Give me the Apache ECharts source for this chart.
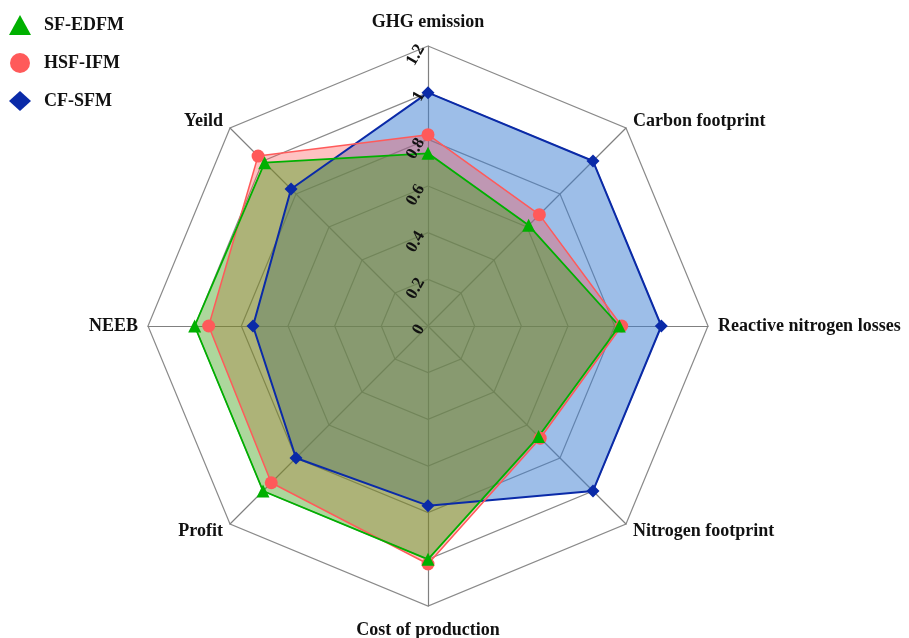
<!DOCTYPE html>
<html>
<head>
<meta charset="utf-8">
<script src="https://cdn.jsdelivr.net/npm/echarts@6/dist/echarts.min.js"></script>
<style>
  html, body { margin: 0; padding: 0; background: #ffffff; }
  #chart { width: 909px; height: 638px; }
</style>
</head>
<body>
<div id="chart"></div>
<script>
// Indicators, listed counter-clockwise from the top (radar default direction)
const indicators = [
  'GHG emission',
  'Yeild',
  'NEEB',
  'Profit',
  'Cost of production',
  'Nitrogen footprint',
  'Reactive nitrogen losses',
  'Carbon footprint'
];
const axisMax = 1.2;

// Series values, same order as indicators
const sfEdfm = [0.74, 0.99, 1.00, 1.00, 1.00, 0.67, 0.82, 0.61];
const hsfIfm = [0.82, 1.03, 0.94, 0.95, 1.02, 0.68, 0.83, 0.675];
const cfSfm  = [1.00, 0.83, 0.75, 0.80, 0.77, 1.00, 1.00, 1.00];

const seriesNames = ['SF-EDFM', 'HSF-IFM', 'CF-SFM'];

const serif = '"Liberation Serif", "Times New Roman", serif';

const chart = echarts.init(document.getElementById('chart'), null, { renderer: 'canvas' });

const center = [428, 326];
const radius = 280;

// Grid radar: web lines and indicator names, no tick labels
const gridIndicators = indicators.map((name, i) => ({
  name: name,
  min: 0,
  max: axisMax,
  nameGap: (i === 0 || i === 4) ? 15 : 10
}));

// Overlay radar with the same geometry: only the tick labels of the vertical axis
const labelIndicators = indicators.map((name, i) => ({
  name: name,
  min: 0,
  max: axisMax,
  axisLabel: i === 0 ? {
    show: true,
    rotate: 60,
    margin: 7,
    align: 'right',
    verticalAlign: 'middle',
    fontFamily: serif,
    fontSize: 17,
    fontWeight: 'bold',
    color: '#111',
    formatter: v => String(parseFloat(Number(v).toFixed(2)))
  } : { show: false }
}));

// Filled polygons drawn beneath; outlines and markers drawn above all fills
function areaSeries(name, values, fillColor) {
  return {
    type: 'radar',
    name: name,
    radarIndex: 0,
    z: 2,
    symbol: 'none',
    lineStyle: { width: 0, opacity: 0 },
    areaStyle: { color: fillColor, opacity: 1 },
    silent: true,
    data: [{ name: name, value: values }]
  };
}

function lineSeries(name, values, symbol, symbolSize, color, lineWidth) {
  return {
    type: 'radar',
    name: name,
    radarIndex: 0,
    z: 3,
    symbol: symbol,
    symbolSize: symbolSize,
    itemStyle: { color: color },
    lineStyle: { color: color, width: lineWidth },
    data: [{ name: name, value: values }]
  };
}

chart.setOption({
  animation: false,
  backgroundColor: '#ffffff',
  legend: {
    orient: 'vertical',
    left: 4,
    top: 10,
    itemWidth: 22,
    itemHeight: 20,
    itemGap: 18,
    textStyle: { fontFamily: serif, fontSize: 18, fontWeight: 'bold', color: '#111', padding: [0, 0, 0, 8] },
    data: [
      { name: seriesNames[0], icon: 'triangle', itemStyle: { color: '#00b000' } },
      { name: seriesNames[1], icon: 'circle', itemStyle: { color: '#ff5a5a' } },
      { name: seriesNames[2], icon: 'diamond', itemStyle: { color: '#0a2aa8' } }
    ]
  },
  radar: [
    {
      z: 0,
      center: center,
      radius: radius,
      startAngle: 90,
      shape: 'polygon',
      splitNumber: 6,
      axisName: {
        fontFamily: serif,
        fontSize: 18,
        fontWeight: 'bold',
        color: '#111'
      },
      axisLine: { lineStyle: { color: '#808080', width: 1.2 } },
      splitLine: { lineStyle: { color: '#8a8a8a', width: 1.2 } },
      splitArea: { show: false },
      axisLabel: { show: false },
      indicator: gridIndicators
    },
    {
      z: 5,
      center: center,
      radius: radius,
      startAngle: 90,
      shape: 'polygon',
      splitNumber: 6,
      axisName: { show: false },
      axisLine: { show: false },
      axisTick: { show: false },
      splitLine: { show: false },
      splitArea: { show: false },
      indicator: labelIndicators
    }
  ],
  series: [
    areaSeries(seriesNames[2], cfSfm, 'rgba(60,125,210,0.5)'),
    areaSeries(seriesNames[1], hsfIfm, 'rgba(255,80,80,0.35)'),
    areaSeries(seriesNames[0], sfEdfm, 'rgba(60,160,20,0.42)'),
    lineSeries(seriesNames[2], cfSfm, 'diamond', 13, '#0a2aa8', 2),
    lineSeries(seriesNames[1], hsfIfm, 'circle', 13, '#ff5a5a', 1.5),
    lineSeries(seriesNames[0], sfEdfm, 'triangle', 13, '#00b000', 1.8)
  ]
});
</script>
</body>
</html>
